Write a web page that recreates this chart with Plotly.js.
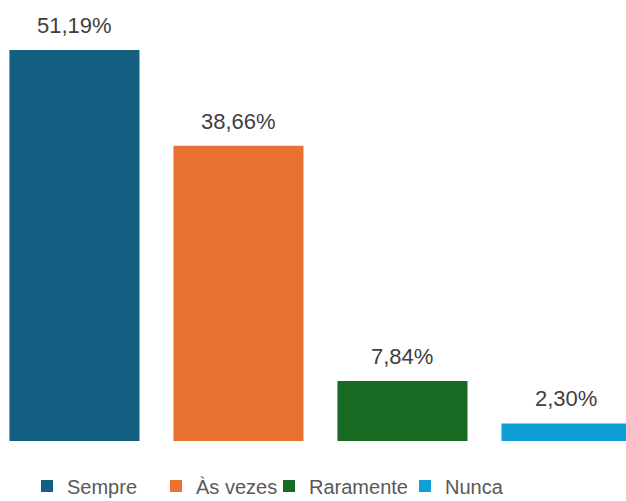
<!DOCTYPE html>
<html><head><meta charset="utf-8">
<script src="https://cdn.plot.ly/plotly-3.0.1.min.js"></script>
<style>html,body{margin:0;padding:0;background:#fff}#chart{width:626px;height:501px}</style>
</head><body><div id="chart"></div>
<script>
const categories = ["Sempre", "Às vezes", "Raramente", "Nunca"];
const values = [51.19, 38.66, 7.84, 2.30];
const labels = ["51,19%", "38,66%", "7,84%", "2,30%"];
const colors = ["#156082", "#E97132", "#196B24", "#0F9ED5"];
const legendX = [27, 156, 269, 405];

const FONT = "Liberation Sans, Arial, sans-serif";
const legendNames = ["legend", "legend2", "legend3", "legend4"];

const traces = categories.map((c, i) => ({
  type: "bar",
  x: [c],
  y: [values[i]],
  name: c,
  width: 0.793,
  marker: {color: colors[i]},
  legend: legendNames[i],
  hoverinfo: "none",
  cliponaxis: false
}));

const annotations = categories.map((c, i) => ({
  x: c, y: values[i], xref: "x", yref: "y",
  text: labels[i], showarrow: false,
  yanchor: "bottom", yshift: 10,
  font: {family: FONT, size: 22, color: "#404040"}
}));

const layout = {
  width: 626, height: 501,
  margin: {l: 0, r: 0, t: 0, b: 60, autoexpand: false},
  paper_bgcolor: "#ffffff", plot_bgcolor: "#ffffff",
  barmode: "overlay",
  showlegend: true,
  xaxis: {range: [-0.454, 3.363], showgrid: false, zeroline: false, showticklabels: false, showline: false, ticks: ""},
  yaxis: {range: [0, 57.74], showgrid: false, zeroline: false, showticklabels: false, showline: false, ticks: ""},
  annotations: annotations
};
legendNames.forEach((ln, i) => {
  layout[ln] = {
    orientation: "h", x: legendX[i] / 626, xanchor: "left",
    y: -45 / 441, yanchor: "middle", itemwidth: 30,
    font: {family: FONT, size: 20, color: "#595959"},
    bgcolor: "rgba(0,0,0,0)"
  };
});

Plotly.newPlot("chart", traces, layout, {displayModeBar: false, staticPlot: true});
</script></body></html>
